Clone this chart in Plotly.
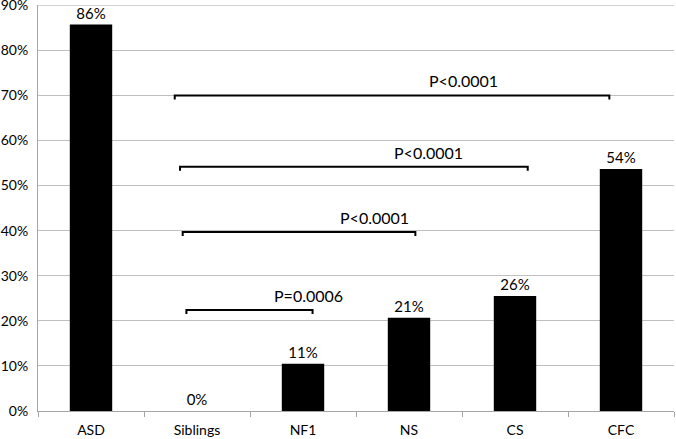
import plotly.graph_objects as go

categories = ["ASD", "Siblings", "NF1", "NS", "CS", "CFC"]
values = [85.7, 0, 10.5, 20.7, 25.5, 53.7]
value_labels = ["86%", "0%", "11%", "21%", "26%", "54%"]
y_ticks = [0, 10, 20, 30, 40, 50, 60, 70, 80, 90]
y_tick_labels = [f"{v}%" for v in y_ticks]

# significance comparisons (category-index span, bracket level in %, label)
cmp_start = [0.79, 0.84, 0.865, 0.90]
cmp_end = [4.89, 4.12, 3.06, 2.09]
cmp_level = [70.0, 54.2, 39.7, 22.4]
cmp_label_x = [3.51, 3.18, 2.67, 2.05]
cmp_labels = ["P<0.0001", "P<0.0001", "P<0.0001", "P=0.0006"]

FONT = "Lato, 'Open Sans', sans-serif"
GRID = "#bfbfbf"

fig = go.Figure()
fig.add_trace(go.Bar(
    x=categories, y=values, text=value_labels, textposition="outside",
    textfont=dict(size=15, color="black", family=FONT),
    marker=dict(color="black", line=dict(width=0)),
    cliponaxis=False, hoverinfo="skip",
))

# top gridline (plotly drops the gridline lying on the plot edge)
fig.add_shape(type="line", xref="paper", yref="y", x0=0, x1=1, y0=y_ticks[-1], y1=y_ticks[-1],
              line=dict(color=GRID, width=1), layer="below")

tick = 0.9
for x0, x1, y, lab, lx in zip(cmp_start, cmp_end, cmp_level, cmp_labels, cmp_label_x):
    fig.add_shape(type="path", xref="x", yref="y",
                  path=f"M {x0},{y - tick} L {x0},{y} L {x1},{y} L {x1},{y - tick}",
                  line=dict(color="black", width=2))
    fig.add_annotation(x=lx, y=y, xref="x", yref="y", text=lab, showarrow=False,
                       yanchor="bottom", yshift=3,
                       font=dict(size=16, color="black", family=FONT))

fig.update_layout(
    width=676, height=439,
    margin=dict(l=38, r=2, t=5, b=28, autoexpand=False),
    paper_bgcolor="white", plot_bgcolor="white",
    bargap=0.6, showlegend=False,
    font=dict(family=FONT, size=14, color="black"),
    xaxis=dict(type="category", tickson="boundaries", ticks="outside", ticklen=5,
               tickcolor="#a6a6a6", showline=True, linecolor="#a6a6a6", linewidth=1,
               showgrid=False, tickfont=dict(size=14), range=[-0.5, 5.5],
               ticklabelstandoff=6, automargin=False),
    yaxis=dict(range=[0, 90.05], tickmode="array", tickvals=y_ticks, ticktext=y_tick_labels,
               showgrid=True,
               gridcolor=GRID, gridwidth=1, showline=True, linecolor="#a6a6a6",
               zeroline=False, tickfont=dict(size=14), ticks="", ticklen=0,
               ticklabelstandoff=6, ticklabeloverflow="allow", automargin=False),
)

fig.write_html("out.html", config={"responsive": False, "displayModeBar": False},
               post_script="document.body.style.margin='0';document.body.style.padding='0';")
